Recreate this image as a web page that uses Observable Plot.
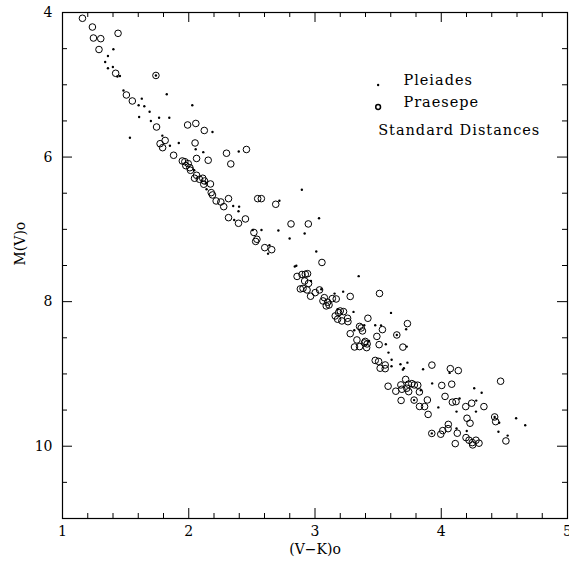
<!DOCTYPE html>
<html><head><meta charset="utf-8">
<script src="https://cdn.jsdelivr.net/npm/d3@7"></script>
<script src="https://cdn.jsdelivr.net/npm/@observablehq/plot@0.6"></script>
<style>
body{margin:0;background:#fff;}
#chart svg{display:block;}
</style></head><body><div id="chart"></div>
<script>
// Praesepe (open circles)
const praesepeVK = [1.158,1.237,1.245,1.303,1.440,1.289,1.421,1.740,1.506,1.553,
1.745,1.991,2.056,2.123,2.050,1.773,1.813,1.793,1.880,1.949,
1.969,1.977,1.996,2.009,2.014,2.062,2.154,2.299,2.457,2.333,
2.062,2.046,2.085,2.111,2.119,2.125,2.172,2.178,2.188,2.217,
2.254,2.277,2.315,2.546,2.575,2.689,2.315,2.394,2.449,2.810,
2.947,2.516,2.540,2.530,2.602,2.657,3.055,2.858,2.897,2.923,
2.941,2.918,2.949,2.884,2.905,2.937,2.965,3.002,3.036,3.074,
3.063,3.100,3.089,3.111,3.137,3.168,3.279,3.511,3.200,3.187,
3.226,3.160,3.179,3.213,3.258,3.261,3.419,3.279,3.353,3.366,
3.376,3.332,3.313,3.353,3.398,3.392,3.413,3.409,3.490,3.534,
3.508,3.648,3.732,3.696,3.477,3.504,3.556,3.516,3.556,3.926,
4.072,4.135,3.579,3.718,3.680,3.740,3.767,3.787,3.814,3.827,
3.640,3.688,3.727,3.742,3.682,3.785,3.890,3.828,3.868,3.896,
4.004,4.083,4.030,4.088,4.117,4.194,4.241,4.338,4.470,4.204,
4.228,4.423,4.431,3.925,3.996,4.012,4.054,4.056,4.127,4.111,
4.196,4.220,4.246,4.275,4.249,4.299,4.512];
const praesepeMV = [4.080,4.201,4.353,4.362,4.288,4.512,4.841,4.871,5.141,5.224,
5.584,5.556,5.535,5.632,5.805,5.815,5.770,5.870,5.975,6.054,
6.064,6.119,6.091,6.147,6.183,6.019,6.044,5.947,5.895,6.095,
6.252,6.293,6.307,6.293,6.376,6.331,6.372,6.492,6.524,6.607,
6.621,6.686,6.575,6.575,6.575,6.653,6.838,6.916,6.856,6.925,
6.925,7.043,7.137,7.167,7.253,7.281,7.458,7.651,7.624,7.621,
7.613,7.714,7.748,7.824,7.817,7.838,7.925,7.875,7.838,7.945,
7.990,8.008,8.059,8.046,7.958,7.963,7.928,7.887,8.129,8.152,
8.138,8.198,8.243,8.267,8.230,8.277,8.230,8.443,8.343,8.364,
8.405,8.530,8.627,8.622,8.550,8.571,8.585,8.636,8.481,8.387,
8.595,8.461,8.304,8.629,8.813,8.827,8.876,8.921,8.927,8.878,
8.927,8.954,9.170,9.076,9.152,9.142,9.134,9.152,9.156,9.249,
9.239,9.212,9.198,9.245,9.367,9.362,9.360,9.450,9.452,9.560,
9.159,9.142,9.311,9.391,9.383,9.452,9.405,9.452,9.101,9.613,
9.682,9.595,9.660,9.823,9.834,9.784,9.757,9.698,9.820,9.964,
9.881,9.917,9.950,9.917,9.982,9.958,9.927];

// Pleiades (small dots)
const pleiadesVK = [1.403,1.360,1.338,1.399,1.360,1.435,1.455,1.483,1.826,1.628,
1.603,1.648,1.690,2.028,1.607,1.700,1.765,1.846,1.534,1.791,
1.921,1.851,2.055,2.188,2.115,2.396,2.043,2.135,2.141,2.352,
2.399,2.394,2.360,2.718,2.896,3.032,2.507,2.576,2.710,2.799,
2.918,2.639,2.628,3.010,2.840,2.852,2.968,3.050,3.155,3.223,
3.346,3.305,3.179,3.602,3.390,3.477,3.523,3.582,3.607,3.428,
3.311,3.722,3.561,3.677,3.732,3.696,3.704,3.856,3.606,3.928,
3.838,3.977,3.727,4.066,4.121,4.145,4.261,4.320,4.275,4.277,
4.459,4.593,4.665,4.453,4.526,4.202,4.121,
1.740,3.648,3.785,4.423,3.925];
const pleiadesMV = [4.509,4.602,4.685,4.754,4.772,4.885,4.878,5.079,5.131,5.192,
5.284,5.296,5.372,5.284,5.445,5.501,5.455,5.455,5.732,5.704,
5.805,5.844,5.892,5.653,5.932,5.923,6.183,6.362,6.445,6.676,
6.686,6.750,6.870,6.604,6.452,6.846,7.008,7.008,7.015,7.126,
7.057,7.219,7.336,7.306,7.513,7.503,7.714,7.828,7.889,7.862,
7.647,8.142,8.105,8.156,8.326,8.326,8.329,8.705,8.804,8.544,
8.396,8.382,8.589,8.866,8.844,8.941,8.921,8.935,8.893,9.131,
9.225,9.463,8.622,8.986,9.521,9.339,9.198,9.260,9.521,9.369,
9.675,9.613,9.710,9.800,9.853,9.789,9.754,
4.871,8.461,9.362,9.595,9.823];

// Axis ticks and labels
const xMajor = [1, 2, 3, 4, 5];
const xMinor = [1.2,1.4,1.6,1.8,2.2,2.4,2.6,2.8,3.2,3.4,3.6,3.8,4.2,4.4,4.6,4.8];
const yMajor = [4, 6, 8, 10];
const yMinor = [4.5,5,5.5,6.5,7,7.5,8.5,9,9.5,10.5];
const xTitle = "(V\u2212K)o";
const yTitle = "M(V)o";
const legendLabels = ["Pleiades", "Praesepe", "Standard Distances"];

const W = 569, H = 568;
const mL = 62, mR = 2, mT = 12, mB = 50;
const iw = W - mL - mR, ih = H - mT - mB;
const majLen = 10, minLen = 5;

const praesepe = praesepeVK.map((v, i) => ({vk: v, mv: praesepeMV[i]}));
const pleiades = pleiadesVK.map((v, i) => ({vk: v, mv: pleiadesMV[i]}));

// legend anchor (data units, upper right empty area)
const legX = 3.50, legTextX = 3.70;
const legRows = [
  {label: legendLabels[0], tx: legTextX, ty: 4.945, sym: "dot", sy: 5.003},
  {label: legendLabels[1], tx: legTextX, ty: 5.250, sym: "circle", sy: 5.307},
  {label: legendLabels[2], tx: legX, ty: 5.635, sym: null}
];

const chart = Plot.plot({
  width: W, height: H,
  marginLeft: mL, marginRight: mR, marginTop: mT, marginBottom: mB,
  style: {fontFamily: "'DejaVu Serif', serif", fontSize: "14px", background: "white", color: "black"},
  x: {domain: [1, 5]},
  y: {domain: [4, 11], reverse: true},
  marks: [
    Plot.frame({stroke: "black", strokeWidth: 1.2}),
    Plot.tickX(xMajor, {x: d => d, insetTop: ih - majLen, stroke: "black"}),
    Plot.tickX(xMajor, {x: d => d, insetBottom: ih - majLen, stroke: "black"}),
    Plot.tickX(xMinor, {x: d => d, insetTop: ih - minLen, stroke: "black"}),
    Plot.tickX(xMinor, {x: d => d, insetBottom: ih - minLen, stroke: "black"}),
    Plot.tickY(yMajor, {y: d => d, insetRight: iw - majLen, stroke: "black"}),
    Plot.tickY(yMajor, {y: d => d, insetLeft: iw - majLen, stroke: "black"}),
    Plot.tickY(yMinor, {y: d => d, insetRight: iw - minLen, stroke: "black"}),
    Plot.tickY(yMinor, {y: d => d, insetLeft: iw - minLen, stroke: "black"}),
    Plot.axisX({ticks: xMajor, tickSize: 0, tickPadding: 8, label: null, tickFormat: d => String(d), fontSize: 14}),
    Plot.axisY({ticks: yMajor, tickSize: 0, tickPadding: 10, label: null, tickFormat: d => String(d), fontSize: 14}),
    Plot.text([xTitle], {frameAnchor: "bottom", dy: 35, text: d => d, fontSize: 14}),
    Plot.text([yTitle], {frameAnchor: "left", dx: -42, rotate: -90, text: d => d, fontSize: 14}),
    Plot.dot(praesepe, {x: "vk", y: "mv", r: 3.3, stroke: "black", strokeWidth: 1, fill: "none"}),
    Plot.dot(pleiades, {x: "vk", y: "mv", r: 1.2, fill: "black", stroke: "none"}),
    Plot.dot(legRows.filter(d => d.sym === "dot"), {x: () => legX, y: "sy", r: 1.2, fill: "black", stroke: "none"}),
    Plot.dot(legRows.filter(d => d.sym === "circle"), {x: () => legX, y: "sy", r: 2.4, stroke: "black", fill: "none"}),
    Plot.text(legRows, {x: "tx", y: "ty", text: "label", textAnchor: "start", fontSize: 14.5})
  ]
});
d3.select(chart).selectAll("text")
  .filter(function() { return legendLabels.includes(this.textContent); })
  .style("letter-spacing", "1px");
document.getElementById("chart").appendChild(chart);
</script>
</body></html>
